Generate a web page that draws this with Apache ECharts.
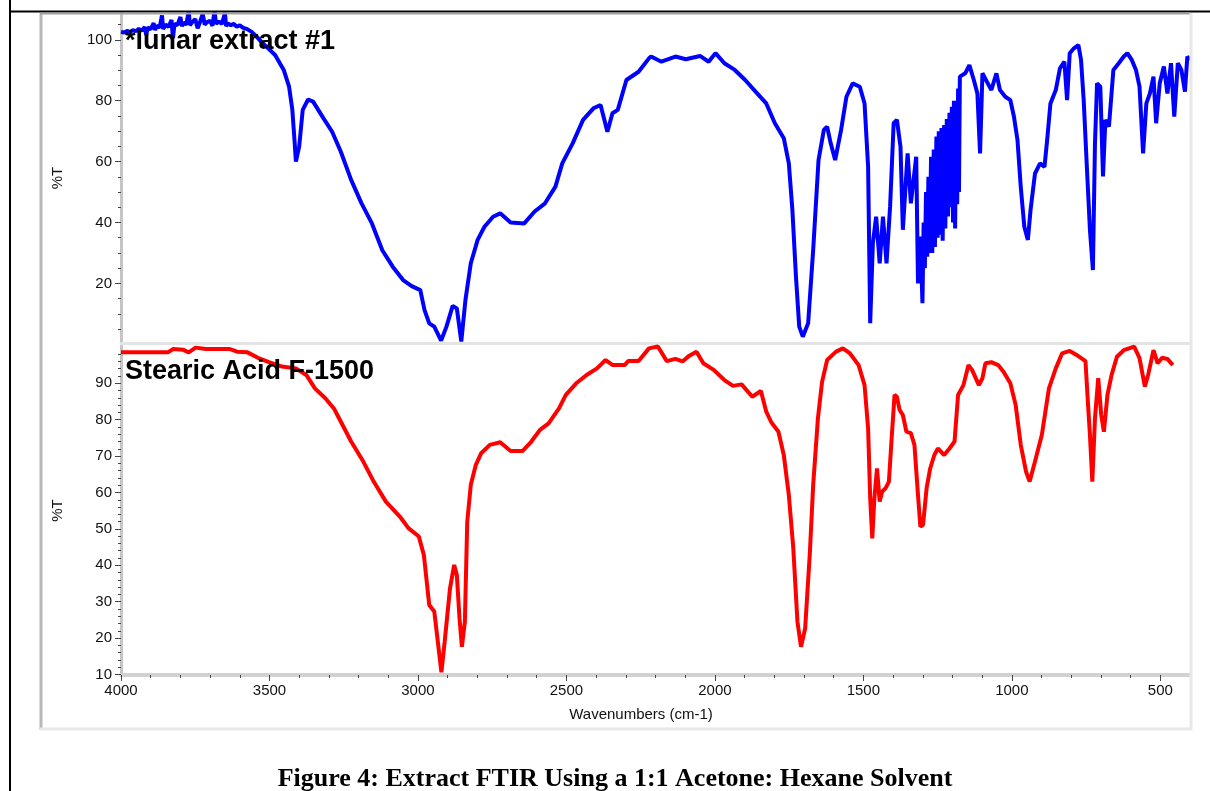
<!DOCTYPE html>
<html>
<head>
<meta charset="utf-8">
<script src="https://cdn.jsdelivr.net/npm/echarts@6/dist/echarts.min.js"></script>
<style>
html,body{margin:0;padding:0;background:#fff;}
#chart{width:1210px;height:791px;}
</style>
</head>
<body>
<div id="chart"></div>
<script>
// ---- Data (wavenumber cm-1, %T) ----
const lunarWavenumbers = [4000,3990,3980,3970,3960,3950,3940,3930,3920,3915,3910,3900,3890,3885,3880,3870,3862,3858,3850,3840,3830,3825,3820,3810,3800,3795,3790,3780,3772,3768,3760,3750,3742,3735,3725,3718,3710,3700,3692,3685,3680,3670,3660,3650,3646,3640,3630,3620,3610,3600,3590,3575,3560,3545,3528,3481,3452,3434,3423,3415,3411,3400,3388,3370,3353,3318,3289,3260,3225,3190,3155,3120,3085,3050,3021,2992,2978,2962,2945,2922,2904,2883,2869,2854,2840,2822,2799,2776,2747,2723,2688,2642,2607,2572,2537,2514,2479,2444,2409,2385,2362,2345,2327,2298,2257,2222,2215,2180,2133,2098,2050,2021,1998,1968,1933,1898,1863,1827,1798,1768,1751,1739,1727,1716,1704,1686,1669,1651,1633,1622,1610,1595,1575,1557,1536,1512,1496,1484,1477,1468,1457,1445,1434,1422,1410,1398,1387,1375,1367,1351,1340,1322,1316,1308,1301,1297,1293,1289,1285,1281,1277,1272,1268,1263,1259,1254,1250,1246,1242,1237,1233,1228,1224,1219,1215,1210,1206,1202,1198,1195,1191,1187,1184,1181,1178,1175,1157,1143,1128,1116,1107,1099,1081,1069,1052,1040,1022,1005,993,981,970,958,946,937,922,905,890,881,870,852,838,823,814,805,791,776,767,758,749,737,727,720,713,702,693,685,673,658,640,623,611,596,582,570,558,547,535,523,514,502,488,476,464,453,441,429,417,409,400];
const lunarTransmittance = [102.6,102.4,102.9,102.5,103.2,102.8,103.6,103.0,104.2,101.5,104.0,103.5,105.5,103.2,104.6,104.0,108.0,103.5,105.0,104.2,106.5,100.5,105.2,104.8,107.5,104.5,105.6,105.0,109.5,104.8,105.8,106.8,103.8,105.5,108.5,105.0,105.8,106.2,104.6,109.5,105.3,106.0,105.2,108.8,104.5,105.4,104.8,105.2,104.3,104.8,104.0,103.5,102.6,101.2,99.4,95.0,90.1,84.6,77.0,66.0,60.0,64.9,77.0,80.4,79.7,74.2,69.8,63.3,54.0,46.3,39.7,30.9,25.5,21.1,19.1,17.8,11.3,6.9,5.8,1.2,5.8,12.6,11.8,0.9,14.6,26.6,34.3,38.6,41.9,43.0,40.0,39.7,43.6,46.3,51.8,59.4,66.0,73.7,77.5,78.6,69.8,75.9,77.0,86.8,89.5,93.9,94.5,92.8,94.5,93.6,94.7,92.8,95.6,92.3,90.1,86.8,83.0,79.1,72.6,67.7,59.4,44.1,22.2,5.8,2.5,6.9,31.0,60.5,70.4,71.5,66.0,60.5,70.4,81.3,85.7,84.6,79.1,58.3,6.9,33.2,41.9,26.6,41.9,26.6,45.2,72.6,73.7,64.9,37.6,62.7,46.3,61.6,20.0,35.4,13.5,40.0,25.0,50.0,28.8,55.0,30.0,61.6,30.0,64.0,32.0,68.2,35.0,70.0,36.0,71.0,34.0,72.0,38.0,74.0,42.0,76.0,45.0,78.0,40.0,80.0,38.0,80.0,46.0,84.0,50.0,87.9,89.0,91.7,86.8,82.4,62.7,89.0,85.7,83.5,89.0,83.5,81.3,80.2,74.8,67.1,51.8,38.6,34.3,44.1,56.1,59.4,58.3,67.1,79.1,83.5,90.6,92.8,80.2,95.6,97.2,98.3,93.4,80.2,61.6,37.6,24.4,66.0,85.7,84.6,55.1,73.7,71.5,90.1,92.3,94.5,95.6,93.4,90.1,84.6,62.7,79.1,82.4,87.9,72.6,85.7,91.2,82.4,92.3,74.8,92.3,90.1,83.0,94.5,93.4];

const stearicWavenumbers = [4000,3842,3825,3790,3772,3749,3714,3633,3609,3574,3539,3504,3458,3411,3376,3347,3312,3283,3260,3225,3184,3149,3108,3061,3032,2997,2980,2962,2945,2933,2921,2910,2892,2878,2869,2860,2852,2842,2834,2822,2805,2787,2758,2723,2688,2648,2618,2589,2560,2525,2502,2467,2432,2397,2368,2344,2304,2292,2257,2222,2192,2162,2133,2109,2086,2062,2039,2004,1968,1939,1910,1874,1845,1827,1810,1786,1768,1751,1736,1722,1710,1696,1680,1669,1653,1639,1622,1592,1569,1545,1516,1496,1484,1477,1470,1463,1454,1445,1437,1425,1414,1404,1395,1387,1378,1367,1355,1340,1328,1316,1308,1299,1287,1275,1261,1249,1228,1210,1193,1181,1163,1146,1134,1111,1099,1089,1069,1046,1028,1005,987,970,952,940,922,899,875,852,831,805,782,752,744,737,729,720,709,699,690,678,664,646,623,588,570,552,541,523,509,494,476,458];
const stearicTransmittance = [98.5,98.5,99.4,99.2,98.5,99.8,99.4,99.4,98.7,98.5,97.0,95.9,94.6,94.1,92.3,88.6,85.9,83.1,79.5,74.0,68.5,63.0,57.5,53.4,50.2,47.9,42.8,29.1,27.3,19.0,10.6,19.0,33.7,40.1,37.3,25.4,17.6,24.5,52.0,62.1,67.6,70.8,73.1,73.8,71.4,71.4,74.0,77.2,79.0,83.1,86.8,90.0,92.3,94.1,96.4,95.0,95.0,96.1,96.1,99.6,100.1,96.1,96.7,96.0,97.6,98.7,95.5,93.7,90.9,89.3,89.7,86.3,87.9,82.2,79.3,76.7,70.3,59.3,44.7,24.5,17.6,22.7,43.7,62.1,80.4,90.4,96.4,98.7,99.6,98.2,95.0,89.5,77.6,58.4,47.4,58.4,66.6,57.5,60.2,61.2,63.0,75.8,86.8,86.3,82.7,81.3,76.7,76.3,73.1,59.3,50.6,51.1,61.2,66.6,70.3,72.1,70.3,72.1,74.0,86.8,89.5,95.0,93.7,89.5,91.4,95.5,95.8,95.0,93.2,90.0,84.0,73.1,65.7,63.0,68.5,75.8,88.6,94.1,98.2,98.9,97.8,96.1,85.0,75.8,63.0,80.4,91.4,81.3,76.7,86.8,92.3,97.3,99.1,100.1,96.9,89.1,92.3,99.1,95.5,97.0,96.7,95.0];

const xTickLabels = [4000,3500,3000,2500,2000,1500,1000,500];
const upperYTickLabels = [20,40,60,80,100];
const lowerYTickLabels = [10,20,30,40,50,60,70,80,90];

const panelTitles = ['*lunar extract #1', 'Stearic Acid F-1500'];
const xAxisTitle = 'Wavenumbers (cm-1)';
const yAxisTitle = '%T';
const caption = 'Figure 4: Extract FTIR Using a 1:1 Acetone: Hexane Solvent';

// ---- minor tick positions ----
const xMinor = [];
for (let v = 400; v <= 4000; v += 100) if (v % 500 !== 0) xMinor.push(v);
const upperMinor = [];
for (let v = 5; v <= 105; v += 5) if (v % 20 !== 0) upperMinor.push(v);
const lowerMinor = [];
for (let v = 10; v <= 100; v += 2) if (v % 10 !== 0) lowerMinor.push(v);

const pairs = (xs, ys) => xs.map((x, i) => [x, ys[i]]);

const FONT = '"Liberation Sans", Arial, sans-serif';
const tickLabelStyle = {color: '#111', fontSize: 15, fontFamily: FONT, formatter: v => String(v)};

function xAxisDef(gridIndex, bottomPanel, minor) {
  return {
    type: 'value', gridIndex, inverse: true, min: 400, max: 4000, position: 'bottom',
    axisLine: {show: !minor, onZero: false, lineStyle: {color: bottomPanel ? '#d2d2d2' : '#e4e4e4', width: bottomPanel ? 4 : 3}},
    axisTick: {show: bottomPanel, customValues: minor ? xMinor : xTickLabels,
      length: minor ? 3 : 6, lineStyle: {color: '#444', width: 1}},
    axisLabel: {show: bottomPanel && !minor, customValues: xTickLabels, margin: 8, ...tickLabelStyle},
    splitLine: {show: false}
  };
}
function yAxisDef(gridIndex, min, max, labels, minorList, minor, showName) {
  return {
    type: 'value', gridIndex, min, max, position: 'left',
    name: showName ? yAxisTitle : '', nameLocation: 'middle', nameGap: 56,
    nameTextStyle: {color: '#111', fontSize: 15, fontFamily: FONT},
    axisLine: {show: !minor, onZero: false, lineStyle: {color: '#c4c4c4', width: 3}},
    axisTick: {show: true, customValues: minor ? minorList : labels,
      length: minor ? 3 : 6, lineStyle: {color: '#444', width: 1}},
    axisLabel: {show: !minor, customValues: labels, margin: 9, ...tickLabelStyle},
    splitLine: {show: false}
  };
}

const chart = echarts.init(document.getElementById('chart'), null, {renderer: 'canvas'});
const option = {
  animation: false,
  backgroundColor: '#fff',
  grid: [
    {left: 121, top: 13, width: 1069, height: 330},
    {left: 121, top: 346, width: 1069, height: 329}
  ],
  xAxis: [
    xAxisDef(0, false, false),
    xAxisDef(1, true, false),
    xAxisDef(1, true, true)
  ],
  yAxis: [
    yAxisDef(0, 0.43, 108.8, upperYTickLabels, upperMinor, false, true),
    yAxisDef(1, 9.86, 100.25, lowerYTickLabels, lowerMinor, false, true),
    yAxisDef(0, 0.43, 108.8, upperYTickLabels, upperMinor, true, false),
    yAxisDef(1, 9.86, 100.25, lowerYTickLabels, lowerMinor, true, false)
  ],
  series: [
    {type: 'line', name: panelTitles[0], xAxisIndex: 0, yAxisIndex: 0,
     data: pairs(lunarWavenumbers, lunarTransmittance), showSymbol: false, symbol: 'none',
     lineStyle: {color: '#0000ff', width: 4}, itemStyle: {color: '#0000ff'}, clip: true, z: 3},
    {type: 'line', name: panelTitles[1], xAxisIndex: 1, yAxisIndex: 1,
     data: pairs(stearicWavenumbers, stearicTransmittance), showSymbol: false, symbol: 'none',
     lineStyle: {color: '#ff0000', width: 4}, itemStyle: {color: '#ff0000'}, clip: true, z: 3}
  ],
  graphic: [
    // outer black border
    {type: 'line', shape: {x1: 10, y1: 0, x2: 10, y2: 791}, style: {stroke: '#000', lineWidth: 2}, z: 50},
    {type: 'line', shape: {x1: 9, y1: 11.5, x2: 1210, y2: 11.5}, style: {stroke: '#000', lineWidth: 2}, z: 50},
    // chart panel frame
    {type: 'line', shape: {x1: 41, y1: 13, x2: 41, y2: 730}, style: {stroke: '#b8b8b8', lineWidth: 3}, z: 50},
    {type: 'line', shape: {x1: 40, y1: 13.5, x2: 1190, y2: 13.5}, style: {stroke: '#a0a0a0', lineWidth: 2}, z: 50},
    {type: 'line', shape: {x1: 40, y1: 729, x2: 1192, y2: 729}, style: {stroke: '#e8e8e8', lineWidth: 3}, z: 50},
    {type: 'line', shape: {x1: 1191, y1: 13, x2: 1191, y2: 730}, style: {stroke: '#e8e8e8', lineWidth: 3}, z: 50},
    // panel titles
    {type: 'text', left: 125, top: 28, z: 100,
     style: {text: panelTitles[0], fill: '#000', font: 'bold 27px "Liberation Sans", Arial, sans-serif'}},
    {type: 'text', left: 125, top: 358, z: 100,
     style: {text: panelTitles[1], fill: '#000', font: 'bold 27px "Liberation Sans", Arial, sans-serif'}},
    // x axis title
    {type: 'text', x: 641, y: 715, z: 100,
     style: {text: xAxisTitle, fill: '#111', font: '15px "Liberation Sans", Arial, sans-serif', align: 'center', verticalAlign: 'middle'}},
    // caption
    {type: 'text', x: 615, y: 779, z: 100,
     style: {text: caption, fill: '#000', font: 'bold 26px "Liberation Serif", "Times New Roman", serif', align: 'center', verticalAlign: 'middle'}}
  ]
};
chart.setOption(option);
</script>
</body>
</html>
